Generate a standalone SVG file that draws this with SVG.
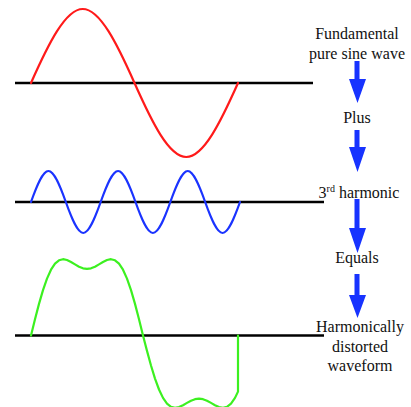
<svg xmlns="http://www.w3.org/2000/svg" width="411" height="407" viewBox="0 0 411 407">
<style>
.axis{stroke:#000;stroke-width:2.5;fill:none}
.wave{fill:none;stroke-width:2.2;stroke-linejoin:round;stroke-linecap:round}
.lbl{font-family:'Liberation Serif','Times New Roman',Times,Tinos,'DejaVu Serif','Noto Serif',serif;font-size:16px;fill:#111;text-anchor:middle}
.arr{fill:#1733ff}
</style>
<rect width="411" height="407" fill="#fff"/>
<g id="fundamental">
<line class="axis" x1="15" y1="83" x2="313" y2="83"/>
<path class="wave" stroke="#ff1a1a" d="M31,83 C48.3,44.14 65.45,9 82.75,9 C100.05,9 117.2,44.14 134.5,83 C151.8,121.86 168.95,157 186.25,157 C203.55,157 220.7,121.86 238,83"/>
</g>
<g id="harmonic3">
<line class="axis" x1="15" y1="202" x2="324" y2="202"/>
<path class="wave" stroke="#1a33ff" d="M31,202 C36.82,185.72 42.6,171 48.42,171 C54.24,171 60.02,185.72 65.83,202 C71.65,218.28 77.43,233 83.25,233 C89.07,233 94.85,218.28 100.67,202 C106.49,185.72 112.27,171 118.08,171 C123.9,171 129.68,185.72 135.5,202 C141.32,218.28 147.1,233 152.92,233 C158.74,233 164.52,218.28 170.33,202 C176.15,185.72 181.93,171 187.75,171 C193.57,171 199.35,185.72 205.17,202 C210.99,218.28 216.77,233 222.58,233 C228.4,233 234.18,218.28 240,202"/>
</g>
<g id="distorted">
<line class="axis" x1="15" y1="335.5" x2="324" y2="335.5"/>
<polyline class="wave" stroke="#3cf020" points="31,335.5 35,319.2 39,303.9 43,290.1 47,278.6 51,269.7 55,263.6 59,260.3 63,259.2 67,260 71,262 75,264.4 79,266.7 83,268.3 87,268.9 91,268.3 95,266.7 99,264.4 103,262 107,260 111,259.2 115,260.3 119,263.6 123,269.7 127,278.6 131,290.1 135,303.9 139,319.2 143,335.5 147,350.9 151,365.5 155,378.6 159,389.5 163,397.9 167,403.6 171,406.8 175,407.8 179,407.1 183,405.2 187,402.9 191,400.7 195,399.2 199,398.6 203,399.2 207,400.7 211,402.9 215,405.2 219,407.1 223,407.8 227,406.8 231,403.6 235,397.9 238,391.6 238,335.5"/>
</g>
<g id="labels">
<text class="lbl" x="357" y="39">Fundamental</text>
<text class="lbl" x="357" y="59.3">pure sine wave</text>
<text class="lbl" x="357" y="123.3">Plus</text>
<text class="lbl" x="359" y="197.5">3<tspan font-size="10" dy="-6">rd</tspan><tspan dy="6"> harmonic</tspan></text>
<text class="lbl" x="357" y="263.3">Equals</text>
<text class="lbl" x="360" y="331.7">Harmonically</text>
<text class="lbl" x="360" y="351.7">distorted</text>
<text class="lbl" x="360" y="371.2">waveform</text>
</g>
<g id="connectors">
<polygon class="arr" points="354.5,61 359.5,61 359.5,79 366,79 357.5,103 349,79 354.5,79"/>
<polygon class="arr" points="354.5,130 359.5,130 359.5,147 366,147 357.5,172 349,147 354.5,147"/>
<polygon class="arr" points="354.5,199 359.5,199 359.5,228 366,228 357.5,253 349,228 354.5,228"/>
<polygon class="arr" points="354.5,274 359.5,274 359.5,295 366,295 357.5,318 349,295 354.5,295"/>
</g>
</svg>
